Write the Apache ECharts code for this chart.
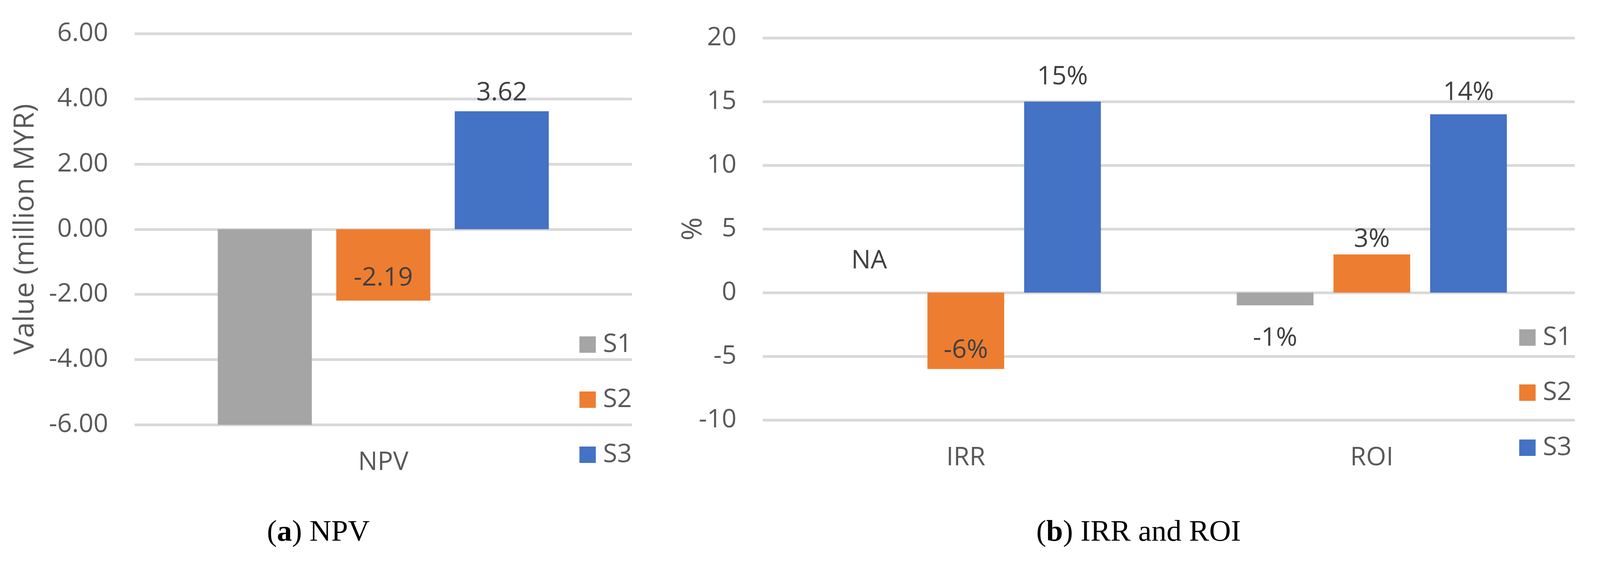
<!DOCTYPE html>
<html>
<head>
<meta charset="utf-8">
<script src="https://cdn.jsdelivr.net/npm/echarts@6/dist/echarts.min.js"></script>
<style>
  html, body { margin: 0; padding: 0; background: #ffffff; overflow: hidden; }
  #chart { width: 4258px; height: 1436px; }
</style>
</head>
<body>
<div id="chart"></div>
<script>
// ---------- DATA ----------
const seriesNames = ['S1', 'S2', 'S3'];
const npvCategories = ['NPV'];
const npvS1 = [-6.0];
const npvS2 = [-2.19];
const npvS3 = [3.62];
const npvAxisMin = -6, npvAxisMax = 6, npvAxisStep = 2;

const pctCategories = ['IRR', 'ROI'];
const pctS1 = [null, -1];   // IRR for S1 is "NA"
const pctS2 = [-6, 3];
const pctS3 = [15, 14];
const pctAxisMin = -10, pctAxisMax = 20, pctAxisStep = 5;

const captionA = ['a', 'NPV'];
const captionB = ['b', 'IRR and ROI'];

// ---------- LAYOUT (designed for 4258 x 1436, scaled to the actual viewport) ----------
const DESIGN_W = 4258, DESIGN_H = 1436;
const VW = Math.min(DESIGN_W, window.innerWidth || DESIGN_W);
const VH = Math.min(DESIGN_H, window.innerHeight || DESIGN_H);
const sx = VW / DESIGN_W, sy = VH / DESIGN_H;
const el = document.getElementById('chart');
el.style.width = VW + 'px';
el.style.height = VH + 'px';
const X = v => v * sx, Y = v => v * sy;

// ---------- STYLE ----------
const colors = ['#A5A5A5', '#ED7D31', '#4472C4'];
const FONT = 'Open Sans';
const TICK_SIZE = 66;
const labelColor = '#404040';
const axisColor = '#595959';
const gridColor = '#D9D9D9';

const npvLabelCfg = [
  [{ show: false }],
  [{ show: true, position: 'insideBottom', distance: 24 }],
  [{ show: true, position: 'top', distance: 13 }]
];
const pctLabelCfg = [
  [{ show: true, position: 'top', distance: 48 }, { show: true, position: 'bottom', distance: 52 }],
  [{ show: true, position: 'insideBottom', distance: 14 }, { show: true, position: 'top', distance: 5 }],
  [{ show: true, position: 'top', distance: 30 }, { show: true, position: 'top', distance: 22 }]
];

function buildData(values, cfgs, fmt) {
  return values.map((v, i) => {
    const c = cfgs[i];
    const isNA = (v === null || v === undefined);
    return {
      value: isNA ? 0 : v,
      label: { show: c.show, position: c.position, distance: c.distance === undefined ? 0 : Y(c.distance),
               formatter: isNA ? 'NA' : fmt(v) }
    };
  });
}

const labelBase = { fontFamily: FONT, fontSize: TICK_SIZE, color: labelColor, lineHeight: 66 };
const npvSeriesVals = [npvS1, npvS2, npvS3];
const pctSeriesVals = [pctS1, pctS2, pctS3];

const series = [];
seriesNames.forEach((name, k) => {
  series.push({
    name: name, type: 'bar', xAxisIndex: 0, yAxisIndex: 0,
    barWidth: '18.9%', barGap: '26%',
    itemStyle: { color: colors[k] },
    label: Object.assign({}, labelBase),
    data: buildData(npvSeriesVals[k], npvLabelCfg[k], v => v.toFixed(2)),
    animation: false
  });
});
seriesNames.forEach((name, k) => {
  series.push({
    name: name, type: 'bar', xAxisIndex: 1, yAxisIndex: 1,
    barWidth: '18.9%', barGap: '26%',
    itemStyle: { color: colors[k] },
    label: Object.assign({}, labelBase),
    data: buildData(pctSeriesVals[k], pctLabelCfg[k], v => v + '%'),
    animation: false
  });
});

const catAxisCommon = {
  type: 'category',
  axisLine: { show: false },
  axisTick: { show: false },
  axisLabel: { fontFamily: FONT, fontSize: TICK_SIZE, color: axisColor, margin: Y(64) }
};
const valAxisCommon = {
  type: 'value',
  axisLine: { show: false },
  axisTick: { show: false },
  splitLine: { show: true, lineStyle: { color: gridColor, width: 7 } },
  nameLocation: 'middle',
  nameMoveOverlap: false,
  nameTextStyle: { fontFamily: FONT, fontSize: 72, color: axisColor }
};

const legendCommon = {
  orient: 'vertical', align: 'left', padding: 0,
  itemWidth: 42, itemHeight: 42, itemGap: Y(75), icon: 'rect', selectedMode: false,
  textStyle: { fontFamily: FONT, fontSize: TICK_SIZE, color: axisColor, lineHeight: 66, padding: [0, 0, 0, X(14)] },
  data: seriesNames
};

function captionGraphic(cap, cx) {
  return {
    type: 'text', x: X(cx), y: Y(1364),
    style: {
      text: '({b|' + cap[0] + '}) ' + cap[1],
      fontFamily: 'Liberation Serif', fontSize: 77, fill: '#000000',
      align: 'center', verticalAlign: 'middle',
      rich: { b: { fontFamily: 'Liberation Serif', fontSize: 77, fontWeight: 'bold', fill: '#000000' } }
    }
  };
}

const option = {
  backgroundColor: '#ffffff',
  animation: false,
  grid: [
    { left: X(358), top: Y(86), width: X(1324), height: Y(1001.5), containLabel: false },
    { left: X(2030), top: Y(97), width: X(2161), height: Y(978), containLabel: false }
  ],
  xAxis: [
    Object.assign({}, catAxisCommon, { gridIndex: 0, data: npvCategories }),
    Object.assign({}, catAxisCommon, { gridIndex: 1, data: pctCategories })
  ],
  yAxis: [
    Object.assign({}, valAxisCommon, {
      gridIndex: 0, min: npvAxisMin, max: npvAxisMax, interval: npvAxisStep,
      name: 'Value (million MYR)', nameGap: X(252),
      axisLabel: { fontFamily: FONT, fontSize: TICK_SIZE, color: axisColor, margin: X(70), formatter: v => v.toFixed(2) }
    }),
    Object.assign({}, valAxisCommon, {
      gridIndex: 1, min: pctAxisMin, max: pctAxisMax, interval: pctAxisStep,
      name: '%', nameGap: X(147),
      axisLabel: { fontFamily: FONT, fontSize: TICK_SIZE, color: axisColor, margin: X(70) }
    })
  ],
  legend: [
    Object.assign({}, legendCommon, { left: X(1542), top: Y(849) }),
    Object.assign({}, legendCommon, { left: X(4043), top: Y(831) })
  ],
  graphic: [captionGraphic(captionA, 847), captionGraphic(captionB, 3030)],
  series: series
};

const chart = echarts.init(el, null, { renderer: 'canvas', width: VW, height: VH });
chart.setOption(option);
</script>
</body>
</html>
